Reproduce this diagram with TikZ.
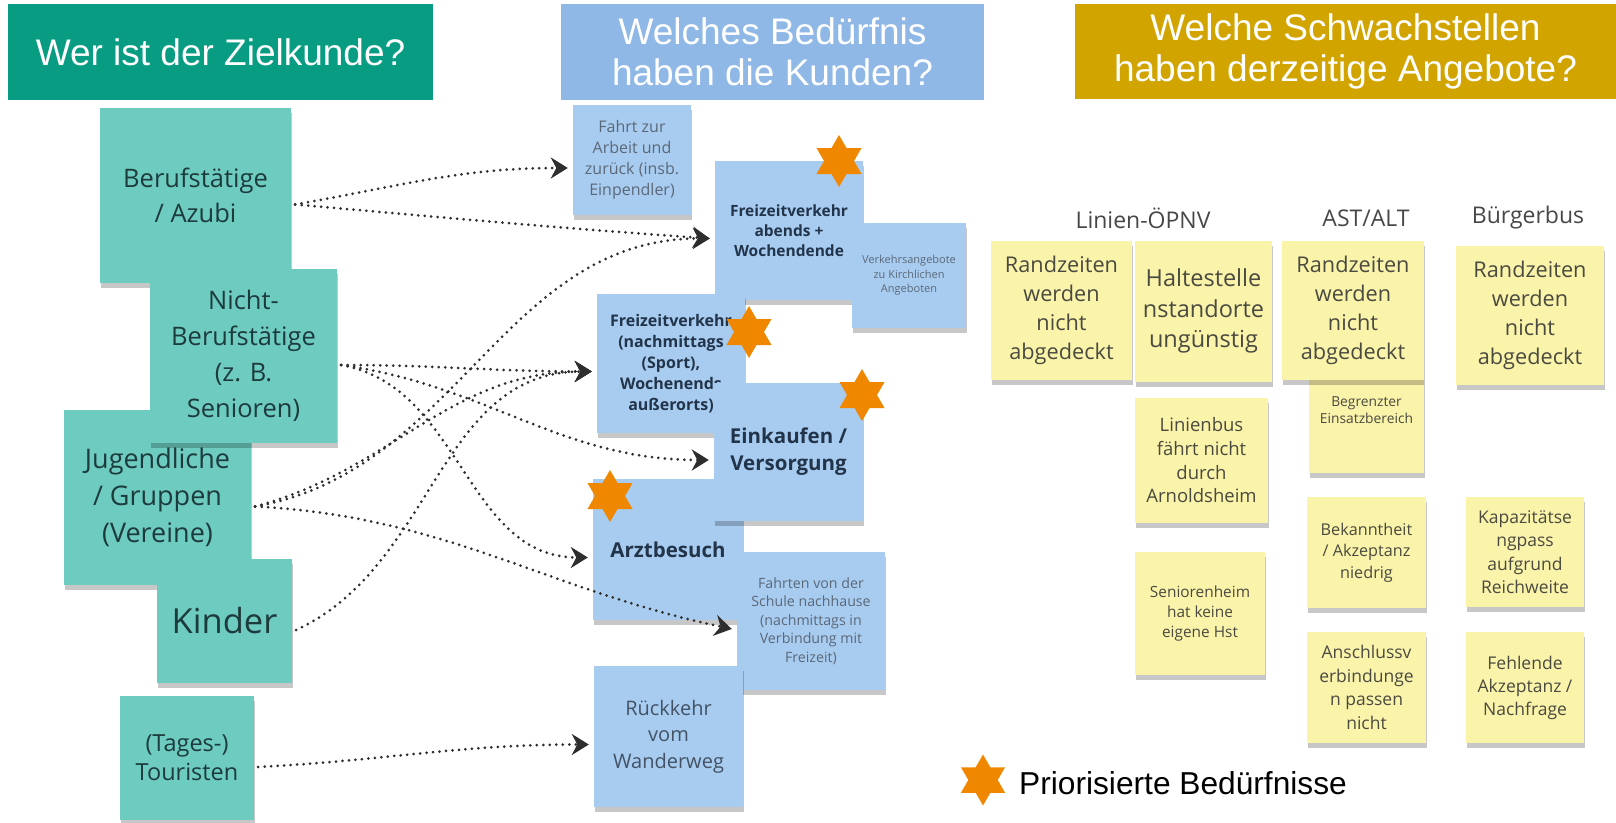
\documentclass[tikz,border=0pt]{standalone}
\usepackage{fontspec}
\setmainfont{Liberation Sans}
\newfontfamily\notefont{Open Sans}
\usetikzlibrary{arrows.meta,positioning,shapes.geometric,shadows}

\definecolor{hgreen}{HTML}{089C82}
\definecolor{hblue}{HTML}{8FB8E6}
\definecolor{hgold}{HTML}{D2A400}
\definecolor{tealnote}{HTML}{6ECBC0}
\definecolor{bluenote}{HTML}{A8CCF0}
\definecolor{yelnote}{HTML}{FAF3AA}
\definecolor{prioorange}{HTML}{F08700}
\definecolor{tealtext}{HTML}{1D3B3C}
\definecolor{bluetext}{HTML}{22344A}
\definecolor{greytext}{HTML}{5B6878}
\definecolor{yeltext}{HTML}{4A4A40}
\definecolor{arrowc}{HTML}{2E2E2E}

\begin{document}
\begin{tikzpicture}[
  x=1pt,y=-1pt,
  fs/.style 2 args={font=\notefont\fontsize{#1}{#2}\selectfont},
  hdr/.style={text=white,align=center,inner sep=0,font=\fontsize{37}{41}\selectfont},
  note/.style={inner sep=0,align=center,
    drop shadow={shadow xshift=1pt,shadow yshift=-5pt,opacity=0.22,fill=black}},
  tnote/.style={note,fill=tealnote,text=tealtext},
  bnote/.style={note,fill=bluenote,text=bluetext},
  ynote/.style={note,fill=yelnote,text=yeltext},
  prio/.style={star,star points=6,star point ratio=1.732,minimum size=52,
    inner sep=0,fill=prioorange},
  arr/.style={draw=arrowc,line width=3pt,line cap=round,dash pattern=on 0pt off 6.5pt,
    -{Stealth[length=17pt,width=21pt,inset=5.5pt]}}
]
\useasboundingbox (0,0) rectangle (1616,822);

% ============================================================
% HEADERS
% ============================================================

\node[hdr,fill=hgreen,minimum width=425,minimum height=96] (h1) at (220.5,52) {Wer ist der Zielkunde?};
\node[hdr,fill=hblue,minimum width=423,minimum height=96] (h2) at (772.5,52) {Welches Bedürfnis\\haben die Kunden?};
\node[hdr,fill=hgold,minimum width=541,minimum height=95] (h3) at (1345.5,51.5) {Welche Schwachstellen\\haben derzeitige Angebote?};

% ============================================================
% LEFT: Zielkunden
% ============================================================

\node[tnote,minimum width=191,minimum height=175,fs={25.5}{35}] (beruf) at (195.5,195.5) {Berufstätige\\/ Azubi};
\node[tnote,minimum width=187,minimum height=175,fs={27}{37}] (jugend) at (157.5,497.5) {Jugendliche\\/ Gruppen\\(Vereine)};
\node[tnote,minimum width=187,minimum height=174,fs={25.5}{36}] (nicht) at (243.5,356) {Nicht-\\Berufstätige\\(z. B.\\Senioren)};
\node[tnote,minimum width=135,minimum height=124,fs={34.5}{40}] (kinder) at (224.5,621) {Kinder};
\node[tnote,minimum width=134,minimum height=124,fs={23.5}{29}] (tour) at (187,758) {(Tages-)\\Touristen};

% ============================================================
% MIDDLE: Bedürfnisse
% ============================================================

\node[bnote,minimum width=118,minimum height=110,fs={16}{21},text=greytext] (fahrt) at (632,160) {Fahrt zur\\Arbeit und\\zurück (insb.\\Einpendler)};
\node[bnote,minimum width=148,minimum height=139,fs={15.5}{20}] (abends) at (789,230.5) {\bfseries Freizeitverkehr\\\bfseries abends +\\\bfseries Wochendende};
\node[bnote,minimum width=114,minimum height=105,fs={11}{14.5},text=greytext] (kirche) at (909,275.5) {Verkehrsangebote\\zu Kirchlichen\\Angeboten};
\node[bnote,minimum width=148,minimum height=139,fs={16}{21}] (nachm) at (671,363.5) {\bfseries Freizeitverkehr\\\bfseries (nachmittags\\\bfseries (Sport),\\\bfseries Wochenends\\\bfseries außerorts)};
\node[bnote,minimum width=150,minimum height=141,fs={20.5}{27}] (arzt) at (668,549.5) {\bfseries Arztbesuch};
\node[bnote,minimum width=149,minimum height=138,fs={20.5}{27}] (einkauf) at (788.5,452) {\bfseries Einkaufen /\\\bfseries Versorgung};
\node[bnote,minimum width=148,minimum height=138,fs={14.2}{18.5},text=greytext] (schule) at (811,621) {Fahrten von der\\Schule nachhause\\(nachmittags in\\Verbindung mit\\Freizeit)};
\node[bnote,minimum width=149,minimum height=141,fs={20}{26.5},text=bluetext!85] (rueck) at (668.5,736.5) {Rückkehr\\vom\\Wanderweg};

% priorisierte Bedürfnisse
\node[prio] (s1) at (839,161) {};
\node[prio] (s2) at (749,332) {};
\node[prio] (s3) at (862,395) {};
\node[prio] (s4) at (610,496) {};

% ============================================================
% CONNECTIONS
% ============================================================

\draw[arr] ([shift={(4,9)}]beruf.east) to[out=10,in=180] ([shift={(-5,8)}]fahrt.west);
\draw[arr] ([shift={(4,9)}]beruf.east) to[out=-5,in=176] ([shift={(-5,8)}]abends.west);

\draw[arr] ([shift={(4,9)}]nicht.east) to[out=0,in=180] ([shift={(-5,8)}]nachm.west);
\draw[arr] ([shift={(4,9)}]nicht.east) to[out=-8,in=180] ([shift={(-5,8)}]einkauf.west);
\draw[arr] ([shift={(4,9)}]nicht.east) to[out=-10,in=180] ([shift={(-5,8)}]arzt.west);

\draw[arr] ([shift={(4,9)}]jugend.east) to[out=10,in=180] ([shift={(-5,8)}]abends.west);
\draw[arr] ([shift={(4,9)}]jugend.east) to[out=15,in=180] ([shift={(-5,8)}]nachm.west);
\draw[arr] ([shift={(4,9)}]jugend.east) to[out=-3,in=168] ([shift={(-5,8)}]schule.west);

\draw[arr] ([shift={(4,9)}]kinder.east) to[out=25,in=180] ([shift={(-5,8)}]nachm.west);
\draw[arr] ([shift={(4,9)}]tour.east) to[out=3,in=180] ([shift={(-5,8)}]rueck.west);

% ============================================================
% RIGHT: Schwachstellen
% ============================================================

\node[fs={23}{28},text=black!72] (linien) at (1143,218) {Linien-ÖPNV};
\node[fs={23}{28},text=black!72] (ast) at (1366,218) {AST/ALT};
\node[fs={23}{28},text=black!72] (buerger) at (1528,218) {Bürgerbus};

\node[ynote,minimum width=141,minimum height=139,fs={21.7}{29}] (y1) at (1061.5,310.5) {Randzeiten\\werden\\nicht\\abgedeckt};
\node[ynote,minimum width=137,minimum height=141,fs={23.5}{30.5}] (y2) at (1203.5,311) {Haltestelle\\nstandorte\\ungünstig};
\node[ynote,minimum width=115,minimum height=93] (y6) at (1366.5,426.5) {};
\node[fs={13.8}{17},text=yeltext,align=center,inner sep=0,below=17pt of y6.north] (y6txt) {Begrenzter\\Einsatzbereich};
\node[ynote,minimum width=142,minimum height=139,fs={21.7}{29}] (y3) at (1353,310.5) {Randzeiten\\werden\\nicht\\abgedeckt};
\node[ynote,minimum width=148,minimum height=139,fs={21.7}{29}] (y4) at (1530,315.5) {Randzeiten\\werden\\nicht\\abgedeckt};

\node[ynote,minimum width=133,minimum height=125,fs={18.5}{23.7}] (y5) at (1201.5,460.5) {Linienbus\\fährt nicht\\durch\\Arnoldsheim};
\node[ynote,minimum width=130,minimum height=123,fs={15.4}{20}] (y7) at (1200,613.5) {Seniorenheim\\hat keine\\eigene Hst};
\node[ynote,minimum width=119,minimum height=111,fs={16.2}{21.5}] (y8) at (1366.5,552.5) {Bekanntheit\\/ Akzeptanz\\niedrig};
\node[ynote,minimum width=118,minimum height=110,fs={17.5}{23.5}] (y9) at (1525,552) {Kapazitätse\\ngpass\\aufgrund\\Reichweite};
\node[ynote,minimum width=119,minimum height=111,fs={17.5}{23.5}] (y10) at (1366.5,687.5) {Anschlussv\\erbindunge\\n passen\\nicht};
\node[ynote,minimum width=118,minimum height=111,fs={17.5}{23}] (y11) at (1525,687.5) {Fehlende\\Akzeptanz /\\Nachfrage};

% legend
\node[prio,minimum size=51] (legstar) at (983,780) {};
\node[right=21pt of legstar,yshift=-3pt,inner sep=0,font=\fontsize{31.7}{36}\selectfont] (legtxt) {Priorisierte Bedürfnisse};

\end{tikzpicture}
\end{document}
